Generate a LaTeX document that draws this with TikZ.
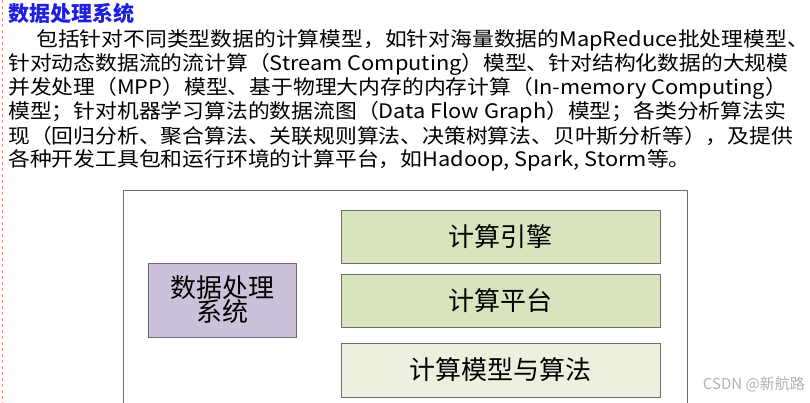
\documentclass[tikz,border=0pt]{standalone}
\usepackage{fontspec}
\setmainfont{Noto Sans CJK SC}
\definecolor{titleblue}{HTML}{1F1FE0}
\definecolor{purp}{HTML}{CCC1DA}
\definecolor{grn}{HTML}{D7E4BD}
\definecolor{lgrn}{HTML}{EBF1DE}
\definecolor{edge}{HTML}{6E6E6E}
\begin{document}
\begin{tikzpicture}[x=1pt,y=-1pt,
  body/.style={anchor=west,inner sep=0pt,xscale=1.09,font=\fontsize{20}{22}\selectfont},
  box/.style={draw=edge,line width=0.8pt,inner sep=0pt,font=\fontsize{26}{30}\selectfont,align=center}]
\useasboundingbox (0,0) rectangle (810,403);
\fill[white] (0,0) rectangle (810,403);
\draw[red!45,dashed,line width=0.8pt] (2,0) -- (2,403);
\node[anchor=west,inner sep=0pt,font=\fontsize{21}{22}\selectfont\bfseries,text=titleblue] (title) at (8,14) {数据处理系统};
\node[body] (l1) at (36,40) {包括针对不同类型数据的计算模型，如针对海量数据的MapReduce批处理模型、};
\node[body] (l2) at (8,64) {针对动态数据流的流计算（Stream Computing）模型、针对结构化数据的大规模};
\node[body] (l3) at (8,88) {并发处理（MPP）模型、基于物理大内存的内存计算（In-memory Computing）};
\node[body] (l4) at (8,112) {模型；针对机器学习算法的数据流图（Data Flow Graph）模型；各类分析算法实};
\node[body] (l5) at (8,136) {现（回归分析、聚合算法、关联规则算法、决策树算法、贝叶斯分析等），及提供};
\node[body] (l6) at (8,160) {各种开发工具包和运行环境的计算平台，如Hadoop, Spark, Storm等。};
\draw[edge,line width=0.8pt] (123,420) |- (687,190) -- (687,420);
\node[box,fill=purp,minimum width=148pt,minimum height=74pt] (dps) at (222,300) {数据处理\\[-6pt]系统};
\node[box,fill=grn,minimum width=319pt,minimum height=53pt] (eng) at (500.5,236.5) {计算引擎};
\node[box,fill=grn,minimum width=319pt,minimum height=53pt] (plat) at (500.5,300.5) {计算平台};
\node[box,fill=lgrn,minimum width=319pt,minimum height=54pt] (alg) at (500.5,370) {计算模型与算法};
\node[anchor=east,inner sep=0pt,text=gray!60,font=\fontsize{15}{16}\selectfont] (wm) at (805,384) {CSDN @新航路};
\end{tikzpicture}
\end{document}
